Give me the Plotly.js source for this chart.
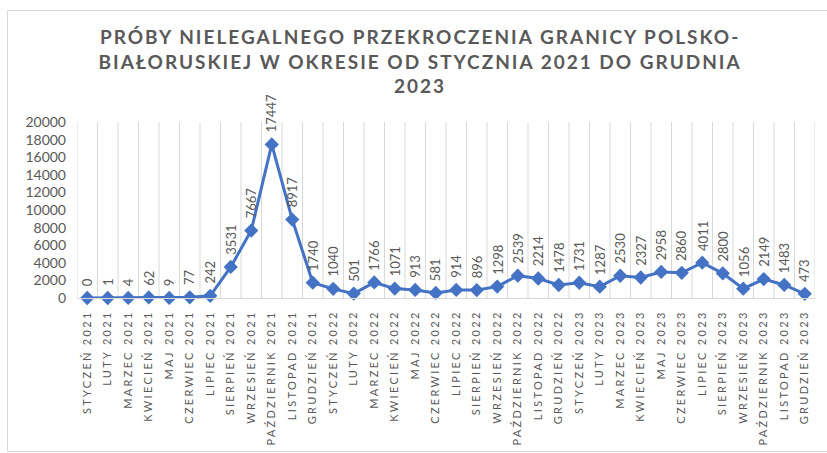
<!DOCTYPE html>
<html>
<head>
<meta charset="utf-8">
<script src="https://cdn.plot.ly/plotly-3.0.1.min.js"></script>
<style>
  html, body { margin: 0; padding: 0; background: #fff; }
  #chart { width: 827px; height: 453px; }
  #chart .xtick text { letter-spacing: 2.3px; }
  #chart .gtitle { letter-spacing: 2px; }
</style>
</head>
<body>
<div id="chart"></div>
<script>
const categories = [
  "STYCZEŃ 2021", "LUTY 2021", "MARZEC 2021", "KWIECIEŃ 2021", "MAJ 2021", "CZERWIEC 2021",
  "LIPIEC 2021", "SIERPIEŃ 2021", "WRZESIEŃ 2021", "PAŹDZIERNIK 2021", "LISTOPAD 2021", "GRUDZIEŃ 2021",
  "STYCZEŃ 2022", "LUTY 2022", "MARZEC 2022", "KWIECIEŃ 2022", "MAJ 2022", "CZERWIEC 2022",
  "LIPIEC 2022", "SIERPIEŃ 2022", "WRZESIEŃ 2022", "PAŹDZIERNIK 2022", "LISTOPAD 2022", "GRUDZIEŃ 2022",
  "STYCZEŃ 2023", "LUTY 2023", "MARZEC 2023", "KWIECIEŃ 2023", "MAJ 2023", "CZERWIEC 2023",
  "LIPIEC 2023", "SIERPIEŃ 2023", "WRZESIEŃ 2023", "PAŹDZIERNIK 2023", "LISTOPAD 2023", "GRUDZIEŃ 2023"
];
const attempts = [
  0, 1, 4, 62, 9, 77, 242, 3531, 7667, 17447, 8917, 1740,
  1040, 501, 1766, 1071, 913, 581, 914, 896, 1298, 2539, 2214, 1478,
  1731, 1287, 2530, 2327, 2958, 2860, 4011, 2800, 1056, 2149, 1483, 473
];
const yTicks = [0, 2000, 4000, 6000, 8000, 10000, 12000, 14000, 16000, 18000, 20000];
const titleText = "PRÓBY NIELEGALNEGO PRZEKROCZENIA GRANICY POLSKO-<br>BIAŁORUSKIEJ W OKRESIE OD STYCZNIA 2021 DO GRUDNIA<br>2023";

const grey = "#595959";
const font = "Lato, 'Open Sans', sans-serif";

const trace = {
  type: "scatter",
  mode: "lines+markers",
  x: categories.map((c, i) => i),
  y: attempts,
  line: { color: "#4472C4", width: 3 },
  marker: { symbol: "diamond", size: 11, color: "#4472C4" },
  cliponaxis: false,
  hoverinfo: "skip"
};

const annotations = attempts.map((v, i) => ({
  x: i, y: v, xref: "x", yref: "y",
  text: String(v),
  textangle: -90,
  showarrow: false,
  xanchor: "center", yanchor: "bottom",
  yshift: 10,
  font: { family: font, size: 13, color: grey }
}));

const layout = {
  width: 827, height: 453,
  margin: { l: 77, r: 12, t: 122, b: 155 },
  paper_bgcolor: "#fff", plot_bgcolor: "#fff",
  showlegend: false,
  title: {
    text: titleText,
    font: { family: font, size: 19, color: grey, weight: "bold" },
    x: 0.508, xanchor: "center", xref: "container",
    y: 0.903, yanchor: "top", yref: "container"
  },
  xaxis: {
    type: "linear",
    range: [-0.5, 35.5],
    tickmode: "array",
    tickvals: categories.map((c, i) => i),
    ticktext: categories,
    tickangle: -90,
    showgrid: false,
    zeroline: false,
    showline: true, linecolor: "#d9d9d9", linewidth: 1,
    ticks: "",
    ticklabelstandoff: 7,
    tickfont: { family: font, size: 11, color: grey },
    fixedrange: true
  },
  yaxis: {
    range: [0, 20000],
    tickmode: "array",
    tickvals: yTicks,
    ticktext: yTicks.map(String),
    showgrid: false,
    zeroline: false,
    showline: false,
    ticks: "",
    ticklabelstandoff: 10,
    tickfont: { family: font, size: 14, color: grey },
    fixedrange: true
  },
  shapes: [],
  annotations: annotations
};

// vertical gridlines between categories (category boundaries)
for (let k = 0; k <= categories.length; k++) {
  layout.shapes.push({
    type: "line", xref: "x", yref: "paper",
    x0: k - 0.5, x1: k - 0.5, y0: 0, y1: 1,
    line: { color: "#d9d9d9", width: 1 }, layer: "below"
  });
}
// outer chart border
layout.shapes.push({
  type: "rect", xref: "paper", yref: "paper",
  x0: (7.5 - 77) / 738, x1: (830 - 77) / 738,
  y0: (298 - 451.5) / 176, y1: (298 - 10.5) / 176,
  line: { color: "#d9d9d9", width: 1 }, fillcolor: "rgba(0,0,0,0)", layer: "above"
});

Plotly.newPlot("chart", [trace], layout, { displayModeBar: false, staticPlot: true });
</script>
</body>
</html>
